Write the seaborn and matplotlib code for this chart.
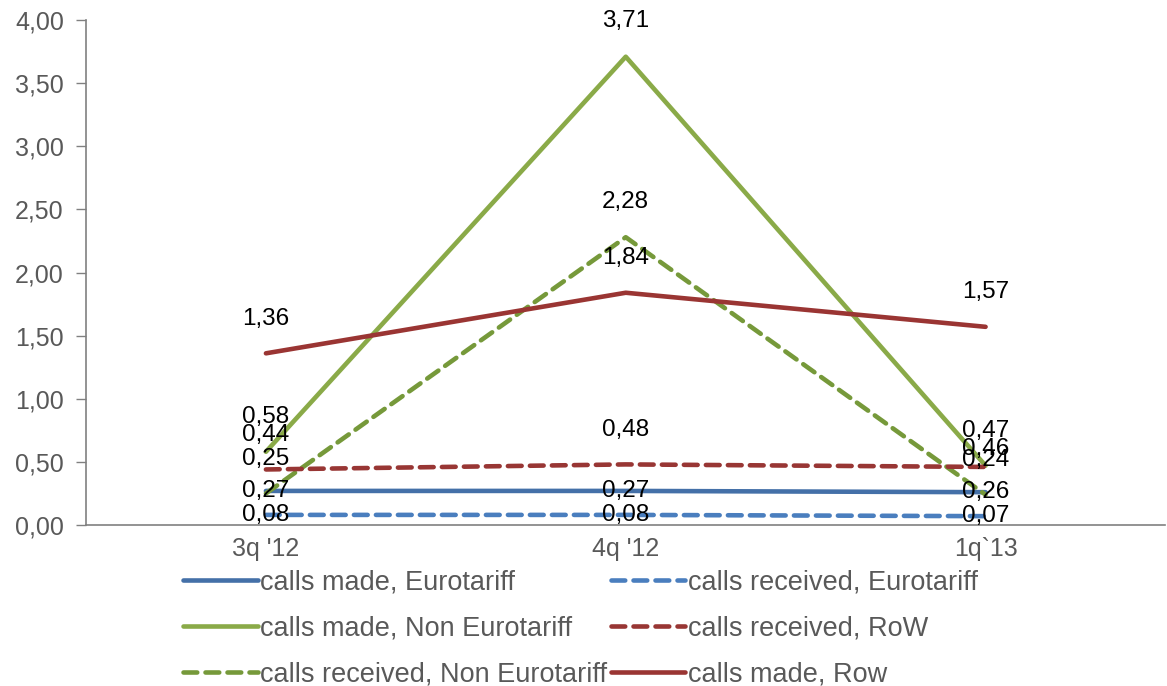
import matplotlib
matplotlib.use("Agg")
import matplotlib.pyplot as plt
import matplotlib.ticker as mticker
import pandas as pd
import seaborn as sns

# data
quarters = ["3q '12", "4q '12", "1q`13"]
made_euro = [0.27, 0.27, 0.26]
recv_euro = [0.08, 0.08, 0.07]
made_noneuro = [0.58, 3.71, 0.47]
recv_row = [0.44, 0.48, 0.46]
recv_noneuro = [0.25, 2.28, 0.24]
made_row = [1.36, 1.84, 1.57]

GREY = "#808080"
TEXT_GREY = "#595959"

# name, values, colour, dashed, label offset (pt) per point
series = [
    ("calls made, Eurotariff", made_euro, "#4470A8", False, [0, 0, 0]),
    ("calls made, Non Eurotariff", made_noneuro, "#8AAA48", False, [25, 26, 25]),
    ("calls received, Non Eurotariff", recv_noneuro, "#76993A", True, [25, 25, 25]),
    ("calls received, Eurotariff", recv_euro, "#4A7EBE", True, [0, 0, 0]),
    ("calls received, RoW", recv_row, "#983634", True, [25, 25, 13]),
    ("calls made, Row", made_row, "#9A3533", False, [25, 25, 25]),
]

df = pd.DataFrame({"quarter": quarters})

sns.set_style("white")
plt.rcParams["font.family"] = ["Liberation Sans", "DejaVu Sans"]

fig = plt.figure(figsize=(11.67, 6.86), dpi=100)
ax = fig.add_axes([0.0737, 0.2347, 0.925, 0.736])

for name, vals, color, dashed, offs in series:
    df[name] = vals
    sns.lineplot(data=df, x="quarter", y=name, ax=ax, color=color,
                 linewidth=3.3, label=name, sort=False)
    ln = ax.lines[-1]
    if dashed:
        ln.set_dashes((3.0, 1.8))
        ln.set_dash_capstyle("round")
    for i, v in enumerate(vals):
        ax.annotate(f"{v:.2f}".replace(".", ","), (i, v), xytext=(0, offs[i]),
                    textcoords="offset points", ha="center", va="center",
                    fontsize=17.5, color="black")

ax.set_xlim(-0.5, 2.5)
ax.set_ylim(0, 4)
ax.yaxis.set_major_locator(mticker.MultipleLocator(0.5))
ax.yaxis.set_major_formatter(mticker.FuncFormatter(lambda v, p: f"{v:.2f}".replace(".", ",")))

# category labels between boundary ticks
ax.set_xticks([-0.5, 0.5, 1.5, 2.5])
ax.set_xticklabels([])
ax.set_xticks(range(len(quarters)), minor=True)
ax.set_xticklabels(quarters, minor=True)
ax.tick_params(axis="x", which="minor", length=0, pad=9, labelsize=18, labelcolor=TEXT_GREY)
ax.tick_params(axis="x", which="major", length=6, width=1, color=GREY, direction="out")
ax.tick_params(axis="y", length=7, width=1, color=GREY, direction="out", labelsize=18,
               labelcolor=TEXT_GREY, pad=9, left=True)
ax.set_xlabel("")
ax.set_ylabel("")

for s in ["top", "right"]:
    ax.spines[s].set_visible(False)
for s in ["left", "bottom"]:
    ax.spines[s].set_color(GREY)
    ax.spines[s].set_linewidth(1.2)

ax.legend(loc="upper left", bbox_to_anchor=(0.09, -0.088), ncol=2, frameon=False,
          fontsize=19.5, labelcolor=TEXT_GREY, handlelength=2.75, handletextpad=0.08,
          columnspacing=0.15, labelspacing=0.74, borderaxespad=0, borderpad=0)

fig.savefig("out.png", dpi=100)
